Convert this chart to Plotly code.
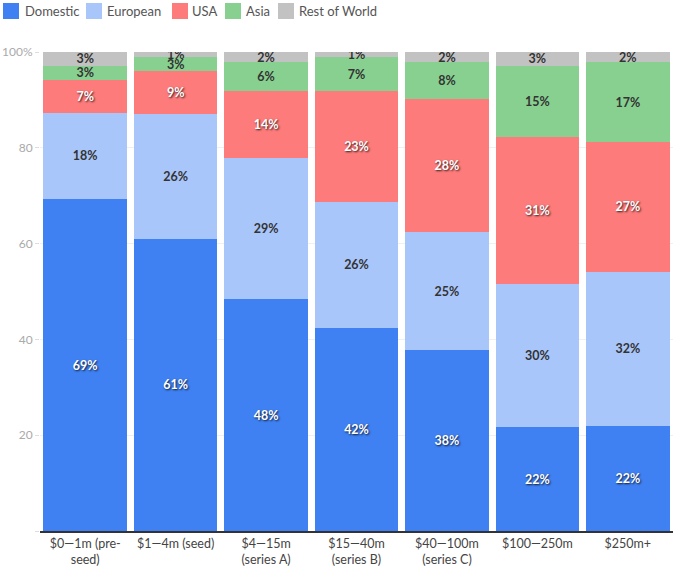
import plotly.graph_objects as go

categories = ["$0—1m (pre-<br>seed)", "$1—4m (seed)", "$4—15m<br>(series A)",
              "$15—40m<br>(series B)", "$40—100m<br>(series C)", "$100—250m", "$250m+"]

domestic = [69.3, 61.0, 48.4, 42.4, 37.8, 21.7, 21.9]
european = [18.0, 26.1, 29.4, 26.3, 24.6, 29.9, 32.2]
usa = [6.9, 8.9, 14.1, 23.2, 27.8, 30.7, 27.1]
asia = [2.9, 2.9, 6.0, 7.0, 7.7, 14.8, 16.7]
rest_of_world = [2.9, 1.1, 2.1, 1.1, 2.1, 2.9, 2.1]

series = [
    ("Domestic", domestic, "#3f80f2", True),
    ("European", european, "#a9c6fa", False),
    ("USA", usa, "#fd7b7b", True),
    ("Asia", asia, "#88d090", False),
    ("Rest of World", rest_of_world, "#c2c2c2", False),
]

FONT = "Lato, Open Sans, sans-serif"
PLOT_LEFT = 40

fig = go.Figure()
for name, vals, color, light_text in series:
    font = dict(family=FONT, size=12.5,
                color="white" if light_text else "#333333", weight="bold")
    if light_text:
        font["shadow"] = "1px 1px 2px rgba(0,0,0,0.8)"
    fig.add_trace(go.Bar(
        name=name, x=categories, y=vals, marker=dict(color=color, line=dict(width=0)),
        texttemplate="%{y:.0f}%", textposition="inside", insidetextanchor="middle",
        textfont=font, constraintext="none", hoverinfo="skip", showlegend=False,
    ))

# Legend row drawn above the plot: swatch + label, positioned in pixels
legend_x = [(3, 23), (86, 105), (172, 190), (225, 244), (278, 297)]
for (name, _, color, _), (sx, tx) in zip(series, legend_x):
    fig.add_shape(type="rect", xref="paper", yref="paper",
                  xsizemode="pixel", ysizemode="pixel", xanchor=0, yanchor=1,
                  x0=sx - PLOT_LEFT, x1=sx - PLOT_LEFT + 16, y0=33, y1=49,
                  fillcolor=color, line=dict(width=0), layer="above")
    fig.add_annotation(text=name, xref="paper", yref="paper", x=0, y=1,
                       xshift=tx - PLOT_LEFT, yshift=41, xanchor="left", yanchor="middle",
                       showarrow=False, font=dict(family=FONT, size=13, color="#555555"))

fig.update_layout(
    barmode="stack", bargap=0.075,
    width=675, height=571,
    margin=dict(l=PLOT_LEFT, r=2, t=52, b=40, autoexpand=False),
    paper_bgcolor="white", plot_bgcolor="white",
    font=dict(family=FONT, size=12, color="#444444"),
    uniformtext=dict(minsize=12.5, mode="show"),
    showlegend=False,
)
fig.update_xaxes(showline=True, linecolor="#333333", linewidth=1.5,
                 tickfont=dict(size=12.5, color="#444444"), ticks="")
fig.update_yaxes(range=[0, 100], tickvals=[0, 20, 40, 60, 80, 100],
                 ticktext=["", "20", "40", "60", "80", "100%"],
                 tickfont=dict(size=12, color="#aaaaaa"),
                 ticks="outside", ticklen=4, tickcolor="#dddddd",
                 showgrid=True, gridcolor="#f0f0f0", zeroline=False)

fig.write_html("out.html")
